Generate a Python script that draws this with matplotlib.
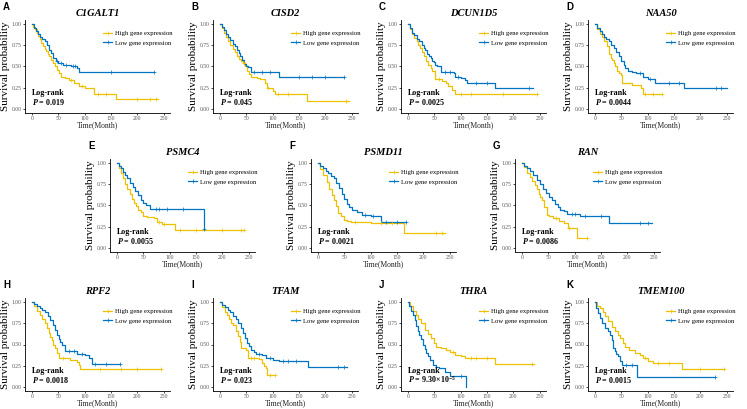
import matplotlib
matplotlib.use('Agg')
import matplotlib.pyplot as plt
from matplotlib.lines import Line2D
import numpy as np

plt.rcParams['font.family'] = 'Liberation Serif'
plt.rcParams['mathtext.fontset'] = 'custom'
plt.rcParams['mathtext.rm'] = 'Liberation Serif'
plt.rcParams['mathtext.it'] = 'Liberation Serif:italic'
plt.rcParams['mathtext.bf'] = 'Liberation Serif:bold:italic'
plt.rcParams['mathtext.sf'] = 'Liberation Serif:bold'

high_col = '#EFC000'
low_col = '#0073C2'

genes = ['C1GALT1', 'CISD2', 'DCUN1D5', 'NAA50', 'PSMC4', 'PSMD11', 'RAN',
         'RPF2', 'TFAM', 'THRA', 'TMEM100']
letters = ['A', 'B', 'C', 'D', 'E', 'F', 'G', 'H', 'I', 'J', 'K']
pvals = ['0.019', '0.045', '0.0025', '0.0044', '0.0055', '0.0021', '0.0086',
         '0.0018', '0.023', r'9.30×10$^{\mathsf{-5}}$', '0.0015']
xticks = [0, 50, 100, 150, 200, 250]
yticks = [0.0, 0.25, 0.5, 0.75, 1.0]

# survival curves: step times (months), survival after step, censor times
a_high_t = [0, 3, 6, 9, 12, 15, 18, 21, 24, 27, 30, 33, 36, 40, 44, 48, 52, 56, 62, 70, 80, 90, 100, 108, 117, 160, 240]
a_high_s = [1, .97, .94, .90, .86, .82, .78, .74, .71, .68, .65, .62, .58, .54, .50, .46, .42, .38, .36, .34, .31, .27, .25, .24, .17, .11, .11]
a_high_c = [75, 95, 125, 140, 200, 225, 235]
a_low_t = [0, 4, 8, 12, 16, 20, 24, 28, 32, 36, 40, 45, 50, 60, 75, 85, 90, 231]
a_low_s = [1, .96, .92, .88, .85, .82, .80, .76, .70, .66, .60, .56, .54, .52, .50, .48, .43, .43]
a_low_c = [48, 55, 65, 78, 82, 150, 231]

b_high_t = [0, 4, 8, 12, 16, 20, 24, 28, 32, 36, 40, 44, 48, 51, 56, 60, 70, 76, 85, 89, 100, 104, 165, 244]
b_high_s = [1, .95, .90, .85, .80, .76, .71, .67, .63, .59, .56, .54, .50, .45, .41, .38, .36, .35, .30, .24, .21, .18, .09, .09]
b_high_c = [45, 92, 110, 130, 240]
b_low_t = [0, 4, 8, 12, 16, 20, 24, 28, 32, 36, 38, 42, 46, 50, 54, 60, 112, 236]
b_low_s = [1, .97, .93, .89, .85, .81, .77, .74, .70, .66, .62, .58, .53, .51, .49, .43, .37, .37]
b_low_c = [65, 80, 95, 150, 175, 200, 236]

c_high_t = [0, 4, 8, 12, 17, 20, 23, 27, 30, 34, 39, 43, 46, 52, 65, 72, 77, 84, 90, 244]
c_high_s = [1, .94, .88, .84, .80, .76, .72, .67, .62, .57, .52, .48, .45, .35, .33, .30, .27, .22, .18, .18]
c_high_c = [60, 100, 120, 180, 244]
c_low_t = [0, 4, 8, 12, 17, 22, 26, 30, 33, 36, 40, 43, 46, 49, 52, 55, 62, 87, 90, 100, 109, 112, 166, 237]
c_low_s = [1, .96, .90, .87, .83, .80, .76, .72, .69, .65, .62, .60, .57, .55, .52, .50, .44, .42, .38, .36, .34, .31, .24, .24]
c_low_c = [70, 80, 95, 130, 150, 230]

d_high_t = [0, 5, 10, 13, 18, 23, 26, 30, 32, 36, 39, 42, 46, 49, 52, 71, 88, 91, 127]
d_high_s = [1, .94, .88, .85, .80, .74, .65, .60, .58, .54, .50, .45, .42, .40, .31, .28, .24, .18, .18]
d_high_c = [95, 110, 127]
d_low_t = [0, 5, 10, 13, 18, 22, 26, 31, 36, 40, 45, 50, 55, 58, 62, 70, 78, 91, 100, 114, 169, 250]
d_low_s = [1, .96, .92, .88, .85, .82, .80, .76, .72, .67, .62, .57, .52, .48, .45, .44, .42, .37, .35, .31, .24, .24]
d_low_c = [85, 105, 140, 160, 230, 240]

e_high_t = [0, 4, 8, 12, 16, 20, 24, 28, 32, 36, 40, 45, 50, 58, 70, 76, 86, 111, 242]
e_high_s = [1, .94, .88, .82, .76, .70, .64, .58, .53, .49, .45, .42, .38, .36, .35, .31, .28, .21, .21]
e_high_c = [80, 90, 120, 150, 200, 235, 242]
e_low_t = [0, 4, 8, 12, 16, 20, 25, 30, 35, 40, 45, 50, 55, 62, 165]
e_low_s = [1, .97, .94, .90, .86, .82, .77, .72, .67, .62, .57, .53, .50, .46, .22]
e_low_c = [75, 80, 95, 125, 165]

f_high_t = [0, 5, 10, 17, 22, 26, 30, 34, 39, 44, 49, 55, 62, 100, 163, 242]
f_high_s = [1, .93, .86, .78, .70, .62, .565, .49, .41, .37, .33, .32, .30, .29, .17, .17]
f_high_c = [70, 120, 140, 225, 235]
f_low_t = [0, 5, 10, 15, 20, 25, 30, 35, 40, 45, 49, 55, 60, 65, 75, 84, 100, 119, 167]
f_low_s = [1, .97, .94, .91, .88, .85, .82, .77, .71, .64, .58, .52, .48, .45, .42, .39, .38, .31, .31]
f_low_c = [90, 105, 130, 150, 167]

g_high_t = [0, 5, 10, 15, 20, 25, 28, 32, 35, 38, 42, 47, 52, 60, 70, 79, 88, 105, 124]
g_high_s = [1, .95, .89, .84, .79, .74, .70, .64, .60, .565, .48, .39, .37, .35, .32, .29, .235, .12, .12]
g_high_c = [65, 90, 124]
g_low_t = [0, 5, 10, 15, 22, 28, 35, 41, 46, 51, 57, 62, 68, 73, 79, 86, 111, 165, 246]
g_low_s = [1, .97, .94, .91, .86, .80, .75, .70, .65, .60, .565, .52, .48, .45, .435, .40, .37, .29, .29]
g_low_c = [95, 100, 120, 150, 225, 240]

h_high_t = [0, 5, 10, 16, 20, 24, 28, 32, 35, 38, 41, 44, 47, 51, 73, 86, 89, 92, 244]
h_high_s = [1, .95, .90, .85, .80, .75, .69, .64, .59, .555, .50, .46, .40, .345, .32, .29, .26, .21, .21]
h_high_c = [60, 130, 170, 200, 244]
h_low_t = [0, 5, 10, 15, 19, 25, 30, 35, 40, 44, 47, 51, 54, 57, 63, 85, 100, 108, 114, 168]
h_low_s = [1, .98, .96, .93, .91, .88, .84, .79, .73, .67, .615, .57, .53, .50, .425, .385, .37, .345, .265, .265]
h_low_c = [70, 80, 95, 120, 140, 168]

i_high_t = [0, 5, 9, 13, 18, 22, 25, 30, 35, 38, 41, 50, 53, 75, 79, 84, 88, 90, 104]
i_high_s = [1, .94, .89, .85, .80, .76, .73, .66, .60, .53, .46, .44, .34, .33, .28, .25, .22, .14, .14]
i_high_c = [60, 65, 95, 104]
i_low_t = [0, 5, 10, 16, 20, 25, 30, 35, 40, 44, 47, 52, 56, 60, 64, 69, 80, 88, 100, 113, 167, 242]
i_low_s = [1, .97, .94, .91, .88, .84, .80, .75, .70, .64, .575, .52, .48, .44, .41, .385, .37, .345, .32, .30, .23, .23]
i_low_c = [75, 95, 120, 130, 145, 225, 235]

j_high_t = [0, 5, 10, 16, 20, 25, 32, 38, 44, 49, 54, 62, 73, 80, 89, 100, 108, 165, 240]
j_high_s = [1, .95, .90, .85, .80, .75, .675, .62, .575, .52, .475, .46, .435, .41, .37, .36, .34, .27, .27]
j_high_c = [85, 120, 130, 150, 235]
j_low_t = [0, 3, 6, 9.5, 13, 16, 19, 22, 25, 28.5, 32, 35, 38, 42, 47.5, 53, 60, 70, 79, 111]
j_low_s = [1, .95, .90, .85, .79, .72, .655, .61, .56, .50, .45, .40, .36, .32, .26, .23, .22, .18, .13, 0]
j_low_c = [100]

k_high_t = [0, 5, 10, 16, 20, 25, 32, 38, 43, 47.5, 53, 57, 65, 76, 85, 92, 100, 111, 165, 244]
k_high_s = [1, .96, .93, .89, .84, .78, .71, .66, .61, .575, .52, .475, .44, .40, .37, .34, .31, .28, .21, .21]
k_high_c = [95, 120, 140, 200, 244]
k_low_t = [0, 3, 6, 9.5, 13, 19, 25, 28.5, 32, 35, 38, 41, 44, 47, 50.6, 79, 228]
k_low_s = [1, .93, .87, .81, .75, .69, .66, .615, .55, .46, .42, .39, .36, .30, .26, .12, .12]
k_low_c = [60, 70, 228]

curves = [
    (a_high_t, a_high_s, a_high_c, a_low_t, a_low_s, a_low_c),
    (b_high_t, b_high_s, b_high_c, b_low_t, b_low_s, b_low_c),
    (c_high_t, c_high_s, c_high_c, c_low_t, c_low_s, c_low_c),
    (d_high_t, d_high_s, d_high_c, d_low_t, d_low_s, d_low_c),
    (e_high_t, e_high_s, e_high_c, e_low_t, e_low_s, e_low_c),
    (f_high_t, f_high_s, f_high_c, f_low_t, f_low_s, f_low_c),
    (g_high_t, g_high_s, g_high_c, g_low_t, g_low_s, g_low_c),
    (h_high_t, h_high_s, h_high_c, h_low_t, h_low_s, h_low_c),
    (i_high_t, i_high_s, i_high_c, i_low_t, i_low_s, i_low_c),
    (j_high_t, j_high_s, j_high_c, j_low_t, j_low_s, j_low_c),
    (k_high_t, k_high_s, k_high_c, k_low_t, k_low_s, k_low_c),
]

W, H = 747, 409
fig = plt.figure(figsize=(W / 100, H / 100), dpi=100)

# axes boxes in pixels
lefts = [25, 213, 401, 588, 110, 311, 515, 25, 213, 401, 588]
tops = [20, 20, 20, 20, 159, 159, 159, 298, 298, 298, 298]
aw, ah = 145, 93


def km(ax, t, s, c, col):
    ax.step(t, s, where='post', color=col, lw=0.9, zorder=3)
    idx = np.searchsorted(t, c, side='right') - 1
    ax.plot(c, np.array(s)[idx], ls='none', marker='+', color=col, ms=2.5, mew=0.5, zorder=4)


for i in range(11):
    ax = fig.add_axes([lefts[i] / W, 1 - (tops[i] + ah) / H, aw / W, ah / H])
    ht, hs, hc, lt, ls_, lc = curves[i]
    km(ax, ht, hs, hc, high_col)
    km(ax, lt, ls_, lc, low_col)

    ax.set_xlim(-13, 262)
    ax.set_ylim(-0.05, 1.05)
    ax.set_xticks(xticks)
    ax.set_yticks(yticks)
    ax.set_yticklabels(['%.2f' % v for v in yticks])
    for sp in ['top', 'right']:
        ax.spines[sp].set_visible(False)
    for sp in ['left', 'bottom']:
        ax.spines[sp].set_linewidth(0.6)
    ax.tick_params(labelsize=4, length=1.5, width=0.5, pad=1, labelcolor='#555555')

    ax.set_title(genes[i], fontsize=7.5, fontweight='bold', style='italic', pad=3)
    ax.set_ylabel('Survival probability', fontsize=8, labelpad=1)
    ax.set_xlabel('Time(Month)', fontsize=5.5, labelpad=0, color='#222222')

    handles = [Line2D([], [], color=high_col, lw=0.9, marker='+', ms=2.5, mew=0.5),
               Line2D([], [], color=low_col, lw=0.9, marker='+', ms=2.5, mew=0.5)]
    ax.legend(handles, ['High gene expression', 'Low gene expression'],
              loc='center left', bbox_to_anchor=(0.54, 0.805), frameon=False,
              fontsize=4.8, handlelength=1.3, handletextpad=0.4, labelspacing=0.6,
              borderpad=0, borderaxespad=0)

    ax.text(0.05, 0.215, 'Log-rank', transform=ax.transAxes, fontsize=5.8,
            fontweight='bold', va='center')
    ax.text(0.05, 0.12, r'$\mathbf{P}$ = ' + pvals[i], transform=ax.transAxes,
            fontsize=5.8, fontweight='bold', va='center')

    fig.text((lefts[i] - 22) / W, 1 - (tops[i] - 13) / H, letters[i],
             family='Liberation Sans', fontweight='bold', fontsize=7, va='center')

fig.savefig('out.png', dpi=100)
